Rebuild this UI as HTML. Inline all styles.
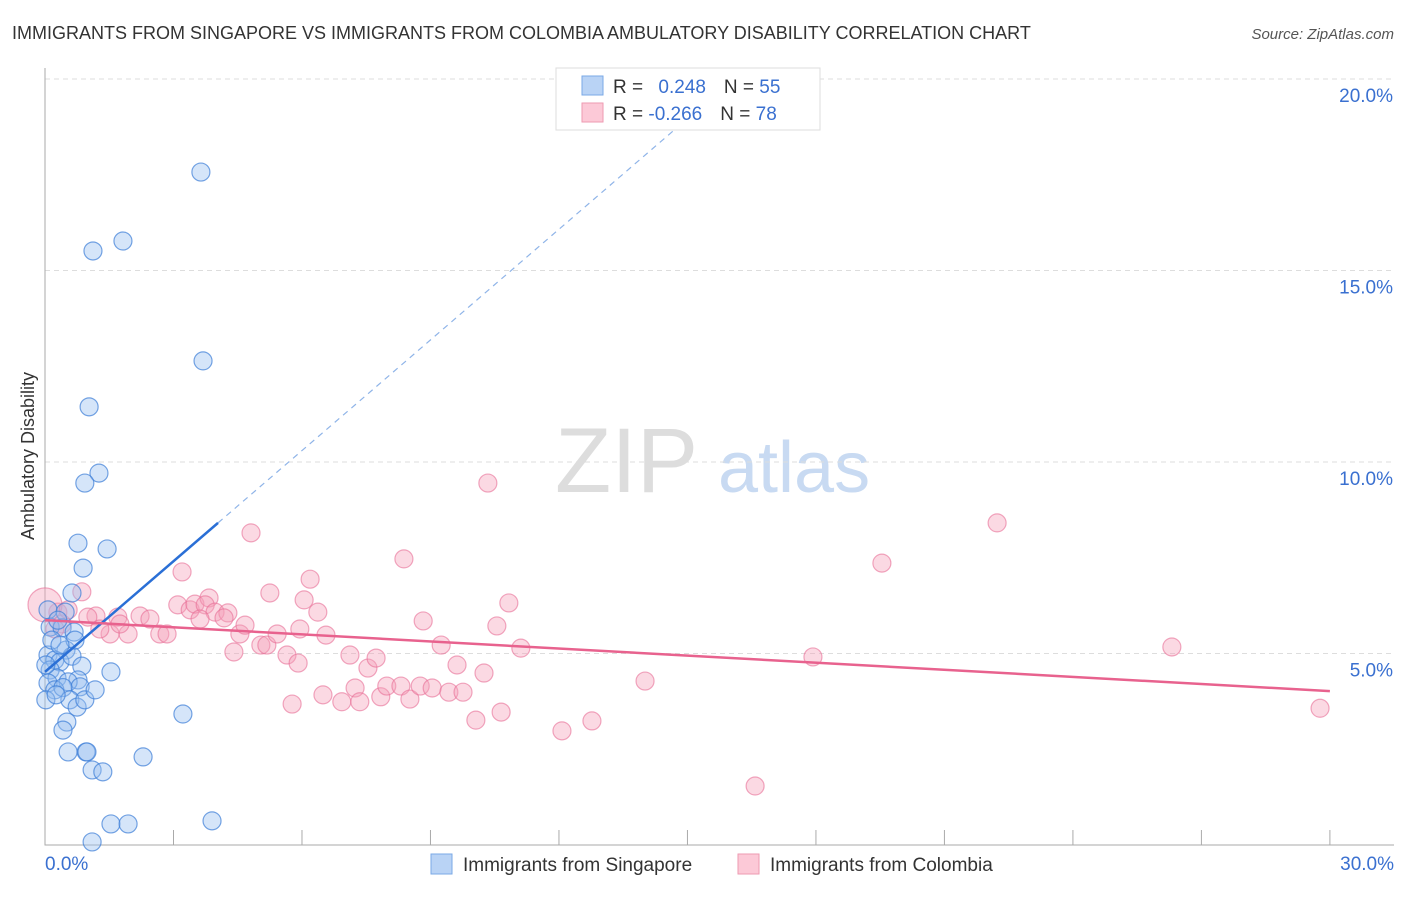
<!DOCTYPE html>
<html><head><meta charset="utf-8"><style>
body{margin:0;background:#fff;font-family:"Liberation Sans",sans-serif}
svg text{font-family:"Liberation Sans",sans-serif}
</style></head><body>
<svg id="chart" width="1406" height="892">
<text x="12" y="39" font-size="18" fill="#333">IMMIGRANTS FROM SINGAPORE VS IMMIGRANTS FROM COLOMBIA AMBULATORY DISABILITY CORRELATION CHART</text>
<text x="1394" y="39" font-size="15" fill="#555" font-style="italic" text-anchor="end">Source: ZipAtlas.com</text>
<text x="34" y="456" font-size="18" fill="#333" transform="rotate(-90 34 456)" text-anchor="middle">Ambulatory Disability</text>
<g><text x="555" y="492" font-size="92" fill="#ddd" font-family="Liberation Serif">ZIP</text><text x="718" y="492" font-size="72" fill="#c8daf2">atlas</text></g>
<g id="grid"></g><g id="axes"></g><g id="pts"></g><g id="lines"></g>
<g>
<rect x="556" y="68" width="264" height="62" fill="#fff" stroke="#ddd"/>
<rect x="582" y="76" width="21" height="19" fill="#b9d3f5" stroke="#7aa8e6"/>
<rect x="582" y="103" width="21" height="19" fill="#fcc9d7" stroke="#ee9ab2"/>
<text x="613" y="93" font-size="19" fill="#333">R = <tspan fill="#3a70d0" dx="10">0.248</tspan><tspan dx="18" fill="#333">N = </tspan><tspan fill="#3a70d0">55</tspan></text>
<text x="613" y="120" font-size="19" fill="#333">R = <tspan fill="#3a70d0">-0.266</tspan><tspan dx="18" fill="#333">N = </tspan><tspan fill="#3a70d0">78</tspan></text>
</g>
<g>
<rect x="431" y="854" width="21" height="20" fill="#b9d3f5" stroke="#7aa8e6"/>
<text x="463" y="871" font-size="19" fill="#333">Immigrants from Singapore</text>
<rect x="738" y="854" width="21" height="20" fill="#fcc9d7" stroke="#ee9ab2"/>
<text x="770" y="871" font-size="19" fill="#333">Immigrants from Colombia</text>
</g>
</svg>
<script>
const yTicks=[5,10,15,20];
const xTickLabels=["0.0%","30.0%"];
const blueX=[3.64,1.12,1.82,3.69,1.03,1.26,0.93,0.77,1.45,0.89,0.63,0.07,0.47,0.12,0.40,0.68,0.49,0.07,0.23,0.35,0.63,0.12,0.86,0.28,0.77,0.54,0.07,0.23,0.82,0.42,1.54,0.58,0.75,0.51,0.42,0.54,0.96,0.98,2.29,1.10,1.35,3.22,1.54,1.94,3.90,1.10,0.16,0.30,0.02,0.26,0.70,0.93,0.35,1.17,0.02];
const blueY=[17.57,15.51,15.77,12.64,11.44,9.71,9.45,7.88,7.73,7.23,6.58,6.14,6.08,5.69,5.67,5.56,5.09,4.96,4.83,4.78,4.93,4.57,4.67,4.36,4.31,4.26,4.23,4.05,4.13,4.11,4.52,3.79,3.60,3.21,3.00,2.43,2.43,2.43,2.30,1.96,1.91,3.42,0.55,0.55,0.63,0.08,5.35,5.87,3.79,3.92,5.35,3.79,5.22,4.05,4.70];
const pinkX=[0.86,0.30,0.40,1.19,1.00,1.70,1.52,1.94,2.22,2.45,2.68,2.85,3.20,3.10,3.39,3.50,3.83,3.74,3.97,4.27,4.18,4.55,4.67,4.41,4.81,5.04,5.18,5.25,5.42,5.65,5.91,5.77,6.05,6.19,6.37,6.49,6.56,6.93,7.24,7.35,7.54,7.73,7.84,7.98,8.31,8.38,8.52,8.76,8.83,9.04,9.25,9.43,9.62,9.76,10.06,10.25,10.34,10.55,10.65,10.83,11.11,12.07,12.77,14.01,16.58,17.93,19.54,22.23,26.31,29.77,0.00,1.28,0.54,0.23,1.75,3.62,5.95,7.12];
const pinkY=[6.61,6.08,5.77,5.98,5.95,5.95,5.51,5.51,5.98,5.90,5.51,5.51,7.13,6.27,6.14,6.29,6.45,6.27,6.08,6.06,5.93,5.51,5.74,5.04,8.15,5.22,5.22,6.58,5.51,4.96,4.75,3.68,6.40,6.94,6.08,3.92,5.48,3.74,4.10,3.74,4.62,4.88,3.87,4.15,4.15,7.47,3.81,4.15,5.85,4.10,5.22,3.99,4.70,3.99,3.26,4.49,9.45,5.72,3.47,6.32,5.14,2.98,3.24,4.28,1.54,4.91,7.36,8.41,5.17,3.57,6.27,5.64,6.14,5.64,5.77,5.90,5.64,4.96];
const blueFit=[4.52,0.963];
const pinkFit=[5.87,-0.0617];
const X=v=>45+v*42.83, Y=v=>845-v*38.3;
const NS="http://www.w3.org/2000/svg";
function mk(tag,attrs,parent){const e=document.createElementNS(NS,tag);for(const k in attrs)e.setAttribute(k,attrs[k]);document.getElementById(parent).appendChild(e);return e;}
yTicks.forEach(t=>{
 const l=mk('line',{x1:45,x2:1394,y1:Y(t),y2:Y(t),stroke:'#ddd','stroke-dasharray':'5,4'},'grid');
 
 
 const tx=mk('text',{x:1393,y:Y(t)+23,'font-size':19,fill:'#3a70d0','text-anchor':'end'},'axes');
 tx.textContent=t.toFixed(1)+'%';
 
 
});
const ax=mk('path',{d:'M45 68 V845 H1394',stroke:'#aaa',fill:'none'},'axes');


for(let i=0;i<=10;i++){const t=mk('line',{x1:X(i*3),x2:X(i*3),y1:830,y2:845,stroke:'#aaa'},'axes');
 
 }
[[0,'start',45],[1,'end',1394]].forEach(([i,a,x])=>{const t=mk('text',{x:x,y:870,'font-size':19,fill:'#3a70d0','text-anchor':a},'axes');t.textContent=xTickLabels[i];
 
 });
pinkX.forEach((v,i)=>{const c=mk('circle',{cx:X(v),cy:Y(pinkY[i]),r:i==70?17:9,fill:'rgba(246,160,186,0.4)',stroke:'rgba(232,110,150,0.6)','stroke-width':1.2},'pts');
 
 });
blueX.forEach((v,i)=>{const c=mk('circle',{cx:X(v),cy:Y(blueY[i]),r:9,fill:'rgba(150,190,240,0.4)',stroke:'rgba(60,125,215,0.7)','stroke-width':1.2},'pts');
 
 });
let l1=mk('line',{x1:X(0),y1:Y(blueFit[0]),x2:X(4.04),y2:Y(blueFit[0]+blueFit[1]*4.04),stroke:'#2a6fd6','stroke-width':2.5},'lines');


let l2=mk('line',{x1:X(4.04),y1:Y(blueFit[0]+blueFit[1]*4.04),x2:X(15),y2:Y(blueFit[0]+blueFit[1]*15),stroke:'#8fb4e8','stroke-width':1.2,'stroke-dasharray':'6,5'},'lines');


let l3=mk('line',{x1:X(0),y1:Y(pinkFit[0]),x2:X(30),y2:Y(pinkFit[0]+pinkFit[1]*30),stroke:'#e8628e','stroke-width':2.5},'lines');


</script>
</body></html>
